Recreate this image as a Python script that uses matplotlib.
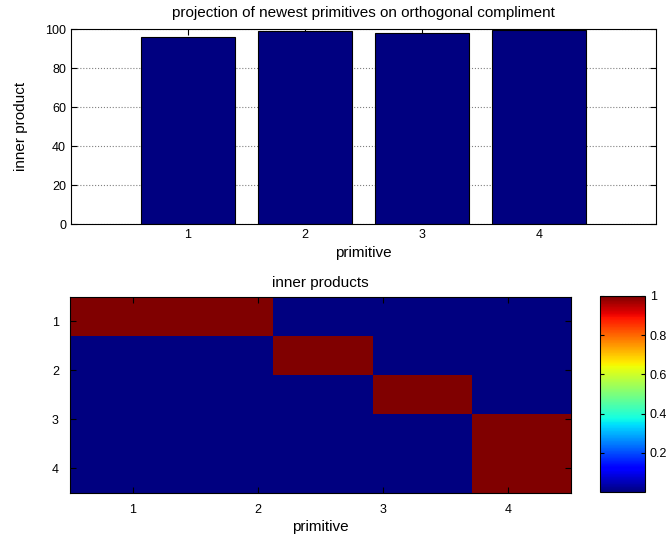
import numpy as np
import matplotlib
matplotlib.use("Agg")
import matplotlib.pyplot as plt

plt.rcParams["font.family"] = ["Liberation Sans", "DejaVu Sans"]

# bar chart data
primitives = [1, 2, 3, 4]
projection = [96.0, 99.0, 98.2, 99.8]

# inner product matrix (drawn on a non-uniform grid as in the original)
x_edges = [0.5, 2.12, 2.92, 3.71, 4.5]
y_edges = [0.5, 1.29, 2.09, 2.89, 4.5]
inner = np.array([
    [1.0, 0.0, 0.0, 0.0],
    [0.0, 1.0, 0.0, 0.0],
    [0.0, 0.0, 1.0, 0.0],
    [0.0, 0.0, 0.0, 1.0],
])

cmap = plt.get_cmap("jet")
navy = cmap(0.0)

fig = plt.figure(figsize=(6.67, 5.42), dpi=100)

# top: bar chart
ax1 = fig.add_axes([0.1064, 0.5867, 0.877, 0.3592])
ax1.bar(primitives, projection, width=0.8, color=navy, edgecolor="black", lw=0.8)
ax1.set_xlim(0, 5)
ax1.set_ylim(0, 100)
ax1.set_xticks(primitives)
ax1.set_yticks(range(0, 101, 20))
ax1.set_axisbelow(True)
ax1.yaxis.grid(True, linestyle=":", color="gray", lw=0.8)
ax1.tick_params(direction="in", top=True, right=True, length=4, labelsize=9)
ax1.set_xlabel("primitive", fontsize=11)
ax1.set_ylabel("inner product", fontsize=11, labelpad=12)
ax1.set_title("projection of newest primitives on orthogonal compliment", fontsize=11, pad=9)

# bottom: inner products
ax2 = fig.add_axes([0.105, 0.0908, 0.751, 0.3613])
mesh = ax2.pcolormesh(x_edges, y_edges, inner, cmap=cmap, vmin=0, vmax=1)
ax2.set_xlim(0.5, 4.5)
ax2.set_ylim(4.5, 0.5)
ax2.set_xticks(primitives)
ax2.set_yticks(primitives)
ax2.tick_params(direction="in", top=True, right=True, length=4, labelsize=9, pad=8)
ax2.set_xlabel("primitive", fontsize=11, labelpad=3)
ax2.set_title("inner products", fontsize=11, pad=7)

cax = fig.add_axes([0.8996, 0.0923, 0.0675, 0.3616])
cb = fig.colorbar(mesh, cax=cax)
cb.set_ticks([0.2, 0.4, 0.6, 0.8, 1])
cb.set_ticklabels(["0.2", "0.4", "0.6", "0.8", "1"])
cax.tick_params(direction="in", left=True, right=True, length=3, labelsize=9)

fig.savefig("out.png", dpi=100)
